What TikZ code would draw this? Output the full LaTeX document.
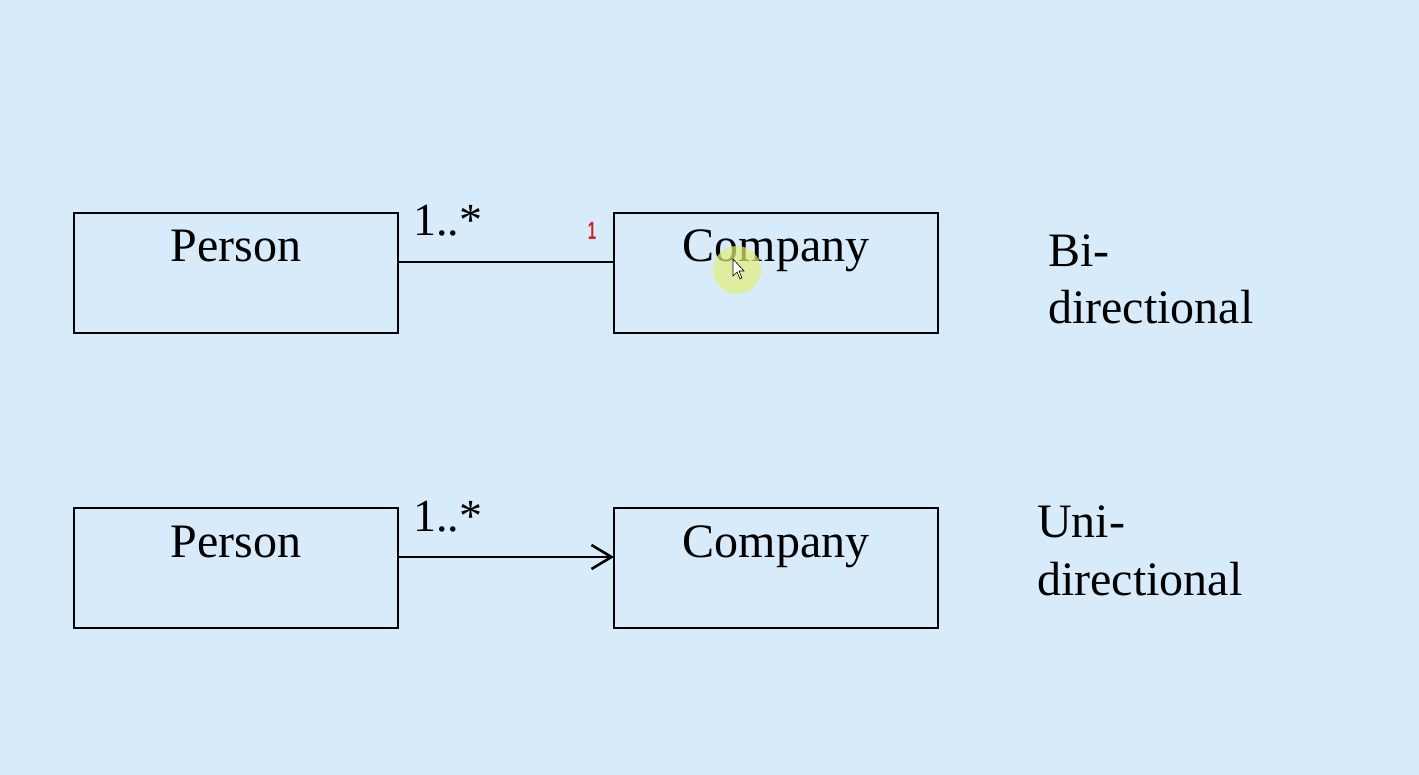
\documentclass[tikz,border=0pt]{standalone}
\usepackage{fontspec}
\setmainfont{Liberation Serif}
\newfontfamily\sansf{Liberation Sans}
\usetikzlibrary{arrows.meta}
\definecolor{bg}{RGB}{215,235,250}
\definecolor{hl}{RGB}{225,240,120}
\definecolor{redmark}{RGB}{215,30,30}
\begin{document}
\begin{tikzpicture}[x=1pt,y=-1pt,
  box/.style={draw,line width=1.6pt,minimum width=324pt,minimum height=120pt,inner sep=0pt,outer sep=0pt,anchor=north west},
  lbl/.style={font=\fontsize{48}{54}\selectfont,anchor=base,inner sep=0pt},
  side/.style={font=\fontsize{48}{54}\selectfont,anchor=base west,inner sep=0pt},
  mult/.style={font=\fontsize{46}{52}\selectfont,anchor=base west,inner sep=0pt},
  conn/.style={line width=2.2pt}]
\fill[bg] (0,0) rectangle (1419,775);
\useasboundingbox (0,0) rectangle (1419,775);
% top row
\node[box] (p1) at (74,213) {};
\node[box] (c1) at (614,213) {};
\node[lbl] (p1t) at (236,262) {Person};
\node[lbl] (c1t) at (776,262) {Company};
\node[mult] (m1) at (413,236) {1..*};
\draw[conn] ([yshift=11pt]p1.east) -- ([yshift=11pt]c1.west);
\node[font=\sansf\bfseries\fontsize{25}{27}\selectfont,text=redmark,inner sep=0pt,xscale=0.6] (r1) at (592,231) {1};
% cursor highlight
\fill[hl,opacity=0.7] (737,270) circle (24);
\draw[fill=white,line width=0.6pt] (733,259) -- (733,276) -- (737,272) -- (740,279) -- (742,278) -- (739,271) -- (744,271) -- cycle;
\node[side] (bi1) at (1048,267) {Bi-};
\node[side] (bi2) at (1048,324) {directional};
% bottom row
\node[box] (p2) at (74,508) {};
\node[box] (c2) at (614,508) {};
\node[lbl] (p2t) at (236,557) {Person};
\node[lbl] (c2t) at (776,557) {Company};
\node[mult] (m2) at (413,531) {1..*};
\draw[conn,-{Straight Barb[length=20pt,width=24pt,line width=2.6pt]}] ([yshift=11pt]p2.east) -- ([yshift=11pt]c2.west);
\node[side] (u1) at (1037,537) {Uni-};
\node[side] (u2) at (1037,595) {directional};
\end{tikzpicture}
\end{document}
